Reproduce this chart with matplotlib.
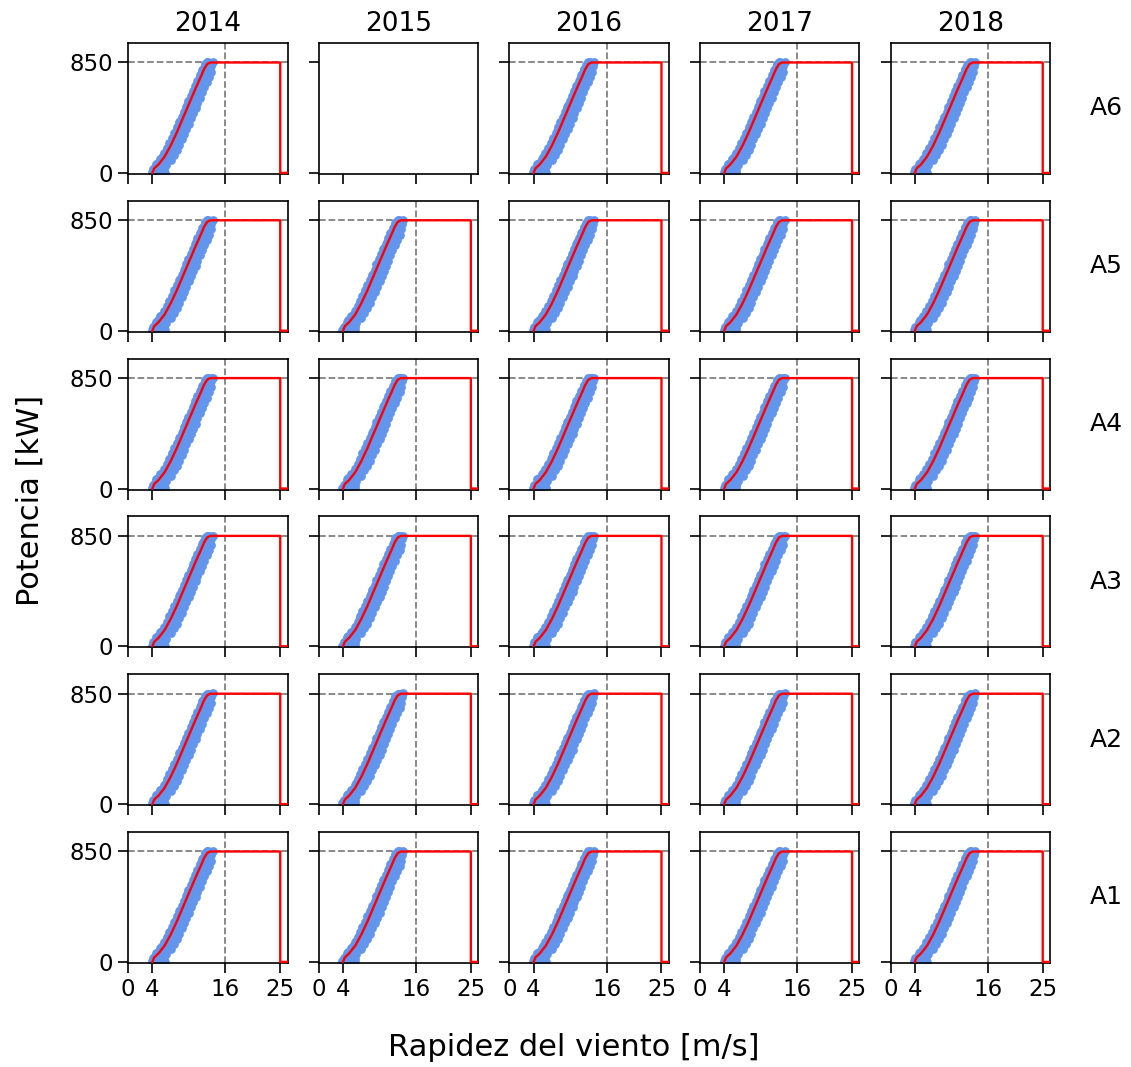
import matplotlib
matplotlib.use("Agg")
import matplotlib.pyplot as plt

# ---- data -------------------------------------------------------------
years = ["2014", "2015", "2016", "2017", "2018"]
turbines = ["A6", "A5", "A4", "A3", "A2", "A1"]
missing = [("A6", "2015")]

x_ticks = [0, 4, 16, 25]
y_ticks = [0, 850]
rated_power = 850
rated_speed_marker = 16

# reference power curve (m/s, kW)
curve_ws = [4.0, 4.3, 5.0, 6.0, 7.0, 8.0, 9.0, 10.0, 11.0, 12.0, 12.5, 13.0, 13.5, 25.0, 25.0, 26.5]
curve_kw = [0, 35, 65, 125, 210, 310, 420, 530, 640, 745, 800, 838, 850, 850, 0, 0]

# measured points (m/s, kW) read from the cloud
cloud_ws = [3.9, 4.2, 4.6, 5.0, 5.3, 5.7, 6.0,
            4.1, 4.5, 4.9, 5.3, 5.6, 5.9,
            4.6, 4.9, 5.3, 5.7, 6.0, 6.2,
            5.3, 5.6, 6.0, 6.4, 6.7, 7.0,
            5.9, 6.2, 6.6, 6.9, 7.2, 7.5,
            6.4, 6.7, 7.1, 7.4, 7.7, 8.0,
            6.8, 7.1, 7.5, 7.8, 8.1, 8.4,
            7.2, 7.5, 7.9, 8.2, 8.5, 8.8,
            7.6, 7.9, 8.3, 8.6, 8.9, 9.2,
            8.0, 8.3, 8.7, 9.0, 9.3, 9.6,
            8.4, 8.6, 9.0, 9.3, 9.6, 10.0,
            8.8, 9.0, 9.4, 9.7, 10.0, 10.4,
            9.2, 9.4, 9.7, 10.0, 10.3, 10.7,
            9.5, 9.7, 10.1, 10.4, 10.7, 11.1,
            9.9, 10.1, 10.5, 10.8, 11.1, 11.4,
            10.3, 10.5, 10.9, 11.2, 11.5, 11.8,
            10.6, 10.8, 11.2, 11.5, 11.8, 12.1,
            11.0, 11.2, 11.6, 11.9, 12.2, 12.5,
            11.4, 11.6, 12.0, 12.3, 12.6, 12.9,
            11.8, 12.0, 12.4, 12.7, 13.0, 13.3,
            12.2, 12.3, 12.7, 13.0, 13.3, 13.6,
            12.6, 12.7, 13.1, 13.4, 13.7,
            13.0, 13.2, 13.6, 13.9]
cloud_kw = [5, 0, 8, 3, 10, 4, 2,
            30, 42, 35, 38, 45, 25,
            70, 80, 75, 85, 70, 60,
            110, 120, 118, 125, 110, 100,
            150, 160, 155, 165, 150, 140,
            190, 200, 205, 195, 190, 175,
            230, 240, 245, 235, 230, 215,
            270, 280, 285, 275, 270, 260,
            310, 320, 325, 315, 310, 300,
            350, 360, 365, 355, 350, 340,
            390, 400, 405, 395, 390, 380,
            430, 440, 445, 435, 430, 420,
            470, 480, 485, 475, 470, 460,
            510, 520, 525, 515, 510, 500,
            550, 560, 565, 555, 550, 540,
            590, 600, 605, 595, 590, 580,
            630, 640, 645, 635, 630, 620,
            670, 680, 685, 675, 670, 660,
            710, 720, 725, 715, 710, 700,
            750, 760, 765, 755, 750, 740,
            790, 800, 805, 795, 790, 780,
            830, 835, 840, 830, 825,
            850, 850, 848, 852]

# ---- figure -----------------------------------------------------------
fig, axes = plt.subplots(len(turbines), len(years), sharex=True, sharey=True,
                         figsize=(11.31, 10.67), dpi=100)
fig.subplots_adjust(left=0.1132, right=0.9284, top=0.9597, bottom=0.0975,
                    wspace=0.195, hspace=0.205)

for i, t in enumerate(turbines):
    for j, y in enumerate(years):
        ax = axes[i, j]
        ax.set_xlim(0, 26.2)
        ax.set_ylim(-8, 1000)
        ax.set_xticks(x_ticks)
        ax.set_yticks(y_ticks)
        ax.tick_params(direction="out", length=7, width=1.2, labelsize=16.5)
        for sp in ax.spines.values():
            sp.set_linewidth(1.2)
        if (t, y) not in missing:
            ax.axhline(rated_power, color="gray", ls="--", lw=1.3, zorder=1)
            ax.axvline(rated_speed_marker, color="gray", ls="--", lw=1.3, zorder=1)
            ax.scatter(cloud_ws, cloud_kw, s=40, color="cornflowerblue",
                       linewidths=0, zorder=2)
            ax.plot(curve_ws, curve_kw, color="red", lw=1.7, zorder=3)
        if i == 0:
            ax.set_title(y, fontsize=19, pad=9)
        if j == len(years) - 1:
            ax.text(1.25, 0.5, t, transform=ax.transAxes, fontsize=18,
                    ha="left", va="center")

fig.text(0.027, 0.531, "Potencia [kW]", rotation=90, fontsize=22,
         ha="center", va="center")
fig.text(0.507, 0.018, "Rapidez del viento [m/s]", fontsize=22,
         ha="center", va="center")

fig.savefig("out.png", dpi=100)
